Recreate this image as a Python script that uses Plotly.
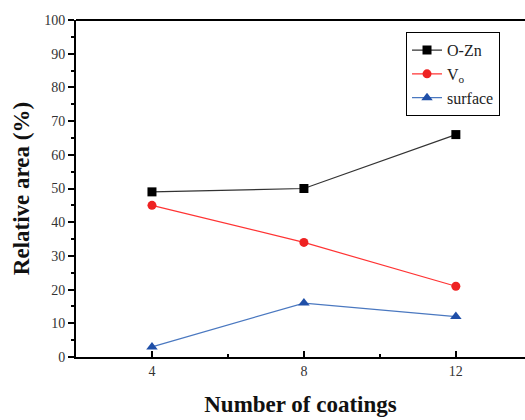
import plotly.graph_objects as go

coatings = [4, 8, 12]
o_zn = [49, 50, 66]
v_o = [45, 34, 21]
surface = [3, 16, 12]
names = ["O-Zn", "V<sub>o</sub>", "surface"]

fig = go.Figure()
fig.add_trace(go.Scatter(x=coatings, y=o_zn, name=names[0], mode="lines+markers",
                         line=dict(color="#333333", width=1.2),
                         marker=dict(symbol="square", size=9, color="black")))
fig.add_trace(go.Scatter(x=coatings, y=v_o, name=names[1], mode="lines+markers",
                         line=dict(color="#ff3333", width=1.2),
                         marker=dict(symbol="circle", size=9, color="#ee2222")))
fig.add_trace(go.Scatter(x=coatings, y=surface, name=names[2], mode="lines+markers",
                         line=dict(color="#4a78c0", width=1.2),
                         marker=dict(symbol="triangle-up", size=10, color="#1f4fa8")))

font_serif = "Liberation Serif, Times New Roman, serif"
fig.update_layout(
    width=525, height=420,
    margin=dict(l=76, r=0, t=20, b=63),
    plot_bgcolor="white", paper_bgcolor="white",
    font=dict(family=font_serif, color="#222222"),
    showlegend=True,
    legend=dict(x=0.735, y=0.964, xanchor="left", yanchor="top",
                bordercolor="black", borderwidth=1, bgcolor="white",
                font=dict(family=font_serif, size=16, color="#222222"),
                itemwidth=30, tracegroupgap=0),
    xaxis=dict(range=[2, 13.82], showline=True, linecolor="black", linewidth=2,
               ticks="inside", ticklen=6, tickwidth=2, tickcolor="black",
               tickvals=coatings, ticktext=[str(c) for c in coatings],
               minor=dict(tickvals=[6, 10], ticks="inside", ticklen=3, tickwidth=2, tickcolor="black"),
               showgrid=False, zeroline=False,
               tickfont=dict(family=font_serif, size=14, color="#333333"),
               title=dict(text="<b>Number of coatings</b>", standoff=18,
                          font=dict(family=font_serif, size=23, color="#111111"))),
    yaxis=dict(range=[0, 100], showline=True, linecolor="black", linewidth=2,
               ticks="outside", ticklen=6, tickwidth=2, tickcolor="black",
               dtick=10, minor=dict(dtick=5, ticks="outside", ticklen=3, tickwidth=2, tickcolor="black"),
               showgrid=False, zeroline=False,
               tickfont=dict(family=font_serif, size=14, color="#333333"),
               title=dict(text="<b>Relative area (%)</b>", standoff=8,
                          font=dict(family=font_serif, size=23, color="#111111"))),
)
fig.add_shape(type="line", xref="paper", yref="paper", x0=0, x1=1, y0=1, y1=1,
              line=dict(color="black", width=2))

fig.write_html("out.html")
